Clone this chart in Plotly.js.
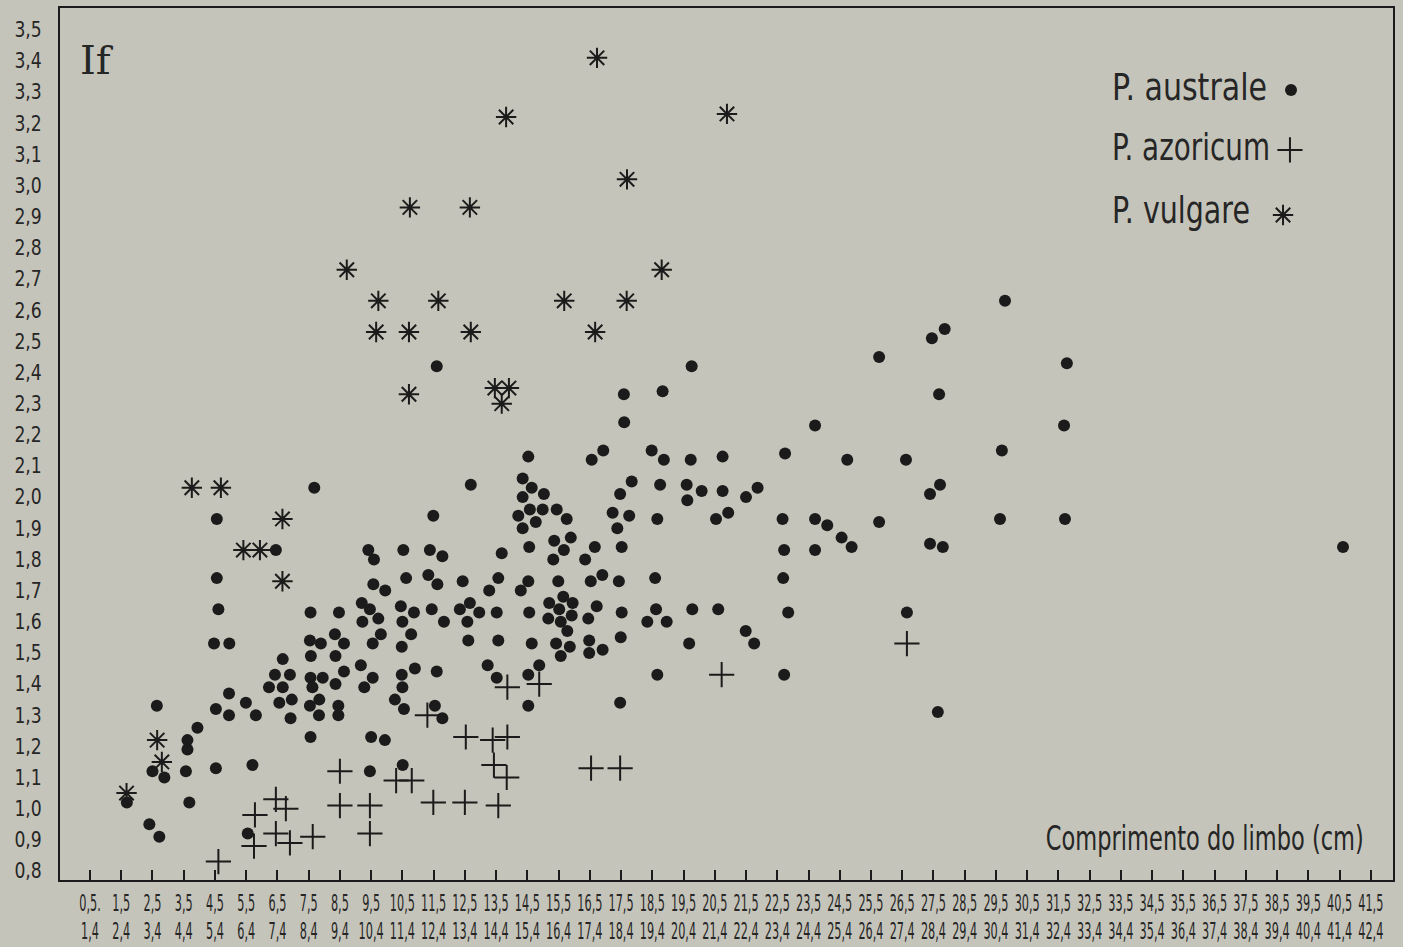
<!DOCTYPE html>
<html>
<head>
<meta charset="utf-8">
<script src="https://cdn.plot.ly/plotly-3.0.1.min.js"></script>
<style>html,body{margin:0;padding:0;background:#c5c4ba;}#chart{width:1403px;height:947px;}</style>
</head>
<body>
<div id="chart"></div>
<script>
// Tick labels (bins of comprimento do limbo, lower and upper limit)
var xTickVals = [0.5,1.5,2.5,3.5,4.5,5.5,6.5,7.5,8.5,9.5,10.5,11.5,12.5,13.5,14.5,15.5,16.5,17.5,18.5,19.5,20.5,21.5,22.5,23.5,24.5,25.5,26.5,27.5,28.5,29.5,30.5,31.5,32.5,33.5,34.5,35.5,36.5,37.5,38.5,39.5,40.5,41.5];
var xTickTextLow = ["0,5.","1,5","2,5","3,5","4,5","5,5","6,5","7,5","8,5","9,5","10,5","11,5","12,5","13,5","14,5","15,5","16,5","17,5","18,5","19,5","20,5","21,5","22,5","23,5","24,5","25,5","26,5","27,5","28,5","29,5","30,5","31,5","32,5","33,5","34,5","35,5","36,5","37,5","38,5","39,5","40,5","41,5"];
var xTickTextHigh = ["1,4","2,4","3,4","4,4","5,4","6,4","7,4","8,4","9,4","10,4","11,4","12,4","13,4","14,4","15,4","16,4","17,4","18,4","19,4","20,4","21,4","22,4","23,4","24,4","25,4","26,4","27,4","28,4","29,4","30,4","31,4","32,4","33,4","34,4","35,4","36,4","37,4","38,4","39,4","40,4","41,4","42,4"];
var yTickVals = [0.8,0.9,1.0,1.1,1.2,1.3,1.4,1.5,1.6,1.7,1.8,1.9,2.0,2.1,2.2,2.3,2.4,2.5,2.6,2.7,2.8,2.9,3.0,3.1,3.2,3.3,3.4,3.5];
var yTickText = ["0,8","0,9","1,0","1,1","1,2","1,3","1,4","1,5","1,6","1,7","1,8","1,9","2,0","2,1","2,2","2,3","2,4","2,5","2,6","2,7","2,8","2,9","3,0","3,1","3,2","3,3","3,4","3,5"];

// Series names
var seriesNames = ["P. australe", "P. azoricum", "P. vulgare"];

// P. australe (comprimento do limbo cm, If)
var australeX = [1.68,2.64,2.50,2.88,2.40,2.72,3.94,3.62,3.62,3.57,3.68,4.53,4.56,4.56,4.61,4.47,4.96,4.95,4.53,4.95,5.49,5.81,5.70,5.55,
6.45,6.67,6.42,6.90,6.23,6.67,6.96,6.56,6.92,7.68,7.56,8.47,7.54,7.89,8.34,8.63,7.57,8.36,7.56,7.95,7.62,8.36,8.63,7.54,7.84,7.83,8.45,8.45,7.56,
9.20,9.46,9.73,9.22,9.81,9.55,9.17,9.55,9.28,9.41,9.59,9.57,9.95,10.53,11.38,11.78,11.49,10.62,11.33,11.62,10.45,10.87,10.50,11.44,10.48,10.78,10.90,10.48,10.50,10.26,10.55,11.60,11.54,11.78,9.50,9.94,9.46,10.51,11.60,
14.53,16.56,16.93,18.48,18.87,19.73,20.75,12.69,14.35,14.64,15.03,14.35,17.84,17.47,18.75,19.60,20.08,20.75,19.62,14.21,14.58,14.99,15.44,15.76,14.77,14.35,17.23,17.76,17.38,18.66,20.54,20.93,
15.36,15.89,14.56,15.67,15.33,16.66,16.35,17.52,13.68,12.43,13.57,13.28,14.53,14.29,15.49,16.53,16.90,17.43,18.59,
12.66,12.34,12.58,12.96,13.52,14.56,15.20,15.65,15.95,15.52,15.17,15.92,15.57,15.78,16.45,16.72,17.52,18.62,18.34,18.96,19.78,20.61,11.83,
12.61,13.57,14.64,15.42,15.86,15.57,16.48,16.48,16.91,17.49,19.68,13.23,14.88,13.52,14.53,18.66,14.53,17.47,
19.76,17.59,18.83,17.60,
23.71,22.75,24.74,21.50,21.87,22.67,23.71,24.10,24.56,24.88,22.72,23.71,22.69,21.49,21.76,22.85,22.72,
25.76,25.76,26.62,26.65,27.45,27.86,27.68,27.71,27.39,27.39,27.80,27.64,29.79,29.69,29.63,31.77,31.68,31.71,40.61];
var australeY = [1.02,1.33,1.12,1.10,0.95,0.91,1.26,1.22,1.19,1.12,1.02,1.13,1.93,1.74,1.64,1.53,1.53,1.37,1.32,1.30,1.34,1.30,1.14,0.92,
1.83,1.48,1.43,1.43,1.39,1.39,1.35,1.34,1.29,2.03,1.63,1.63,1.54,1.53,1.56,1.53,1.49,1.49,1.42,1.42,1.39,1.40,1.44,1.33,1.35,1.30,1.33,1.30,1.23,
1.66,1.64,1.61,1.60,1.56,1.53,1.46,1.42,1.39,1.83,1.80,1.72,1.70,1.83,1.83,1.81,1.94,1.74,1.75,1.72,1.65,1.63,1.60,1.64,1.52,1.56,1.45,1.43,1.39,1.35,1.32,1.44,1.33,1.29,1.23,1.22,1.12,1.14,2.42,
2.13,2.12,2.15,2.15,2.12,2.12,2.13,2.04,2.06,2.03,2.01,2.00,2.05,2.01,2.04,2.04,2.02,2.02,1.99,1.94,1.96,1.96,1.96,1.93,1.92,1.90,1.95,1.94,1.90,1.93,1.93,1.95,
1.86,1.87,1.84,1.83,1.80,1.84,1.80,1.84,1.82,1.73,1.74,1.70,1.73,1.70,1.73,1.73,1.75,1.73,1.74,
1.66,1.64,1.60,1.63,1.63,1.63,1.66,1.68,1.66,1.64,1.61,1.62,1.60,1.57,1.61,1.65,1.63,1.64,1.60,1.60,1.64,1.64,1.60,
1.54,1.54,1.53,1.53,1.52,1.49,1.54,1.50,1.51,1.55,1.53,1.46,1.46,1.42,1.43,1.43,1.33,1.34,
2.42,2.33,2.34,2.24,
2.23,2.14,2.12,2.00,2.03,1.93,1.93,1.91,1.87,1.84,1.83,1.83,1.74,1.57,1.53,1.63,1.43,
2.45,1.92,2.12,1.63,2.51,2.54,2.33,2.04,2.01,1.85,1.84,1.31,2.63,2.15,1.93,2.43,2.23,1.93,1.84];

// P. azoricum
var azoricumX = [4.61,5.78,5.75,6.45,6.77,6.45,6.90,7.63,8.50,8.50,9.46,9.46,10.30,10.80,11.30,11.49,13.86,14.88,12.53,13.39,13.86,13.43,13.84,12.50,13.57,16.54,17.47,20.72,26.65];
var azoricumY = [0.83,0.98,0.88,1.03,1.00,0.92,0.89,0.91,1.12,1.01,1.01,0.92,1.09,1.09,1.30,1.02,1.39,1.40,1.23,1.22,1.23,1.14,1.10,1.02,1.01,1.13,1.13,1.43,1.53];

// P. vulgare
var vulgareX = [1.67,2.65,2.80,3.76,4.69,6.66,5.41,5.94,6.66,8.72,9.73,11.65,9.66,10.71,12.69,10.71,13.46,13.91,13.68,15.68,17.68,16.67,18.80,10.74,12.66,13.82,16.73,20.89,17.69];
var vulgareY = [1.05,1.22,1.15,2.03,2.03,1.93,1.83,1.83,1.73,2.73,2.63,2.63,2.53,2.53,2.53,2.33,2.35,2.35,2.30,2.63,2.63,2.53,2.73,2.93,2.93,3.22,3.41,3.23,3.02];

var ink = '#1b1b1b';
var txt = '#262626';
var bg = '#c5c4ba';
var fontFam = '"DejaVu Sans", sans-serif';

var symAustrale = {symbol:'circle', size:12, color:ink, line:{width:0}};
var symAzoricum = {symbol:'cross-thin-open', size:18, color:ink, line:{width:2, color:ink}};
var symVulgare = {symbol:'asterisk-open', size:17, color:ink, line:{width:2, color:ink}};

var traces = [
  {type:'scatter', mode:'markers', name:seriesNames[0], x:australeX, y:australeY, marker:symAustrale},
  {type:'scatter', mode:'markers', name:seriesNames[1], x:azoricumX, y:azoricumY, marker:symAzoricum},
  {type:'scatter', mode:'markers', name:seriesNames[2], x:vulgareX, y:vulgareY, marker:symVulgare},
  // helper so the second row of bin labels (xaxis2) is drawn
  {type:'scatter', mode:'markers', x:[xTickVals[0]], y:[yTickVals[0]], xaxis:'x2', yaxis:'y',
   marker:{opacity:0}, hoverinfo:'skip', showlegend:false},
  // key symbols (drawn in a 0..1 overlay frame, to the right of the names)
  {type:'scatter', mode:'markers', x:[0.9235], y:[0.906], xaxis:'x3', yaxis:'y3', marker:symAustrale, hoverinfo:'skip'},
  {type:'scatter', mode:'markers', x:[0.9227], y:[0.8372], xaxis:'x3', yaxis:'y3', marker:symAzoricum, hoverinfo:'skip'},
  {type:'scatter', mode:'markers', x:[0.9175], y:[0.7626], xaxis:'x3', yaxis:'y3', marker:symVulgare, hoverinfo:'skip'}
];

var layout = {
  width:1403, height:947,
  margin:{l:60, r:10, t:8, b:67},
  paper_bgcolor:bg, plot_bgcolor:bg,
  showlegend:false,
  font:{family:fontFam, color:txt},
  xaxis:{range:[-0.46, 42.21], tickmode:'array', tickvals:xTickVals, ticktext:xTickTextLow,
    ticks:'inside', ticklen:10, tickwidth:2, tickcolor:ink, showgrid:false, zeroline:false,
    showline:true, mirror:true, linecolor:ink, linewidth:2,
    tickfont:{family:fontFam, size:23, color:txt}, tickangle:0, ticklabelstandoff:1},
  xaxis2:{range:[-0.46, 42.21], overlaying:'x', anchor:'y', side:'bottom', tickmode:'array',
    tickvals:xTickVals, ticktext:xTickTextHigh, ticks:'', showgrid:false, zeroline:false, showline:false,
    tickfont:{family:fontFam, size:23, color:txt}, tickangle:0, ticklabelstandoff:35},
  xaxis3:{domain:[0,1], range:[0,1], overlaying:'x', anchor:'y3', visible:false},
  yaxis3:{domain:[0,1], range:[0,1], overlaying:'y', anchor:'x3', visible:false},
  yaxis:{range:[0.771, 3.570], tickmode:'array', tickvals:yTickVals, ticktext:yTickText,
    ticks:'', showgrid:false, zeroline:false, showline:true, mirror:true, linecolor:ink, linewidth:2,
    tickfont:{family:fontFam, size:21, color:txt}, ticklabelstandoff:9},
  annotations:[
    {xref:'paper', yref:'paper', x:0.0135, y:0.940, xanchor:'left', yanchor:'middle', showarrow:false,
     text:'If', font:{family:'"DejaVu Serif", serif', size:40, color:txt}},
    {xref:'paper', yref:'paper', x:0.7877, y:0.9094, xanchor:'left', yanchor:'middle', showarrow:false,
     text:seriesNames[0], font:{family:fontFam, size:38, color:txt}},
    {xref:'paper', yref:'paper', x:0.7877, y:0.8406, xanchor:'left', yanchor:'middle', showarrow:false,
     text:seriesNames[1], font:{family:fontFam, size:38, color:txt}},
    {xref:'paper', yref:'paper', x:0.7877, y:0.7683, xanchor:'left', yanchor:'middle', showarrow:false,
     text:seriesNames[2], font:{family:fontFam, size:38, color:txt}},
    {xref:'paper', yref:'paper', x:0.9797, y:0.048, xanchor:'right', yanchor:'middle', showarrow:false,
     text:'Comprimento do limbo (cm)', font:{family:fontFam, size:33, color:txt}}
  ]
};

// horizontal condensing of the hand-lettered texts: [selector, scale]
var tickCondense = [['g.xtick text', 0.49], ['g.x2tick text', 0.49], ['g.ytick text', 0.82]];
// target widths (px) of the annotations, in layout order; null = keep
var annTargetW = [null, 155, 158, 138, 318];

function condense(el, s, anchor) {
  var b = el.getBBox();
  var cx = anchor === 'left' ? b.x : (anchor === 'right' ? b.x + b.width : b.x + b.width / 2);
  var t = el.getAttribute('transform') || '';
  el.setAttribute('transform', t + ' translate(' + cx + ',0) scale(' + s + ',1) translate(' + (-cx) + ',0)');
}

Plotly.newPlot('chart', traces, layout, {displayModeBar:false, staticPlot:true}).then(function (gd) {
  tickCondense.forEach(function (pair) {
    gd.querySelectorAll(pair[0]).forEach(function (el) { condense(el, pair[1], 'middle'); });
  });
  var anns = gd.querySelectorAll('g.annotation text.annotation-text');
  anns.forEach(function (el, i) {
    var w = annTargetW[i];
    if (!w) return;
    var b = el.getBBox();
    if (b.width > 0) condense(el, w / b.width, layout.annotations[i].xanchor);
  });
});
</script>
</body>
</html>
